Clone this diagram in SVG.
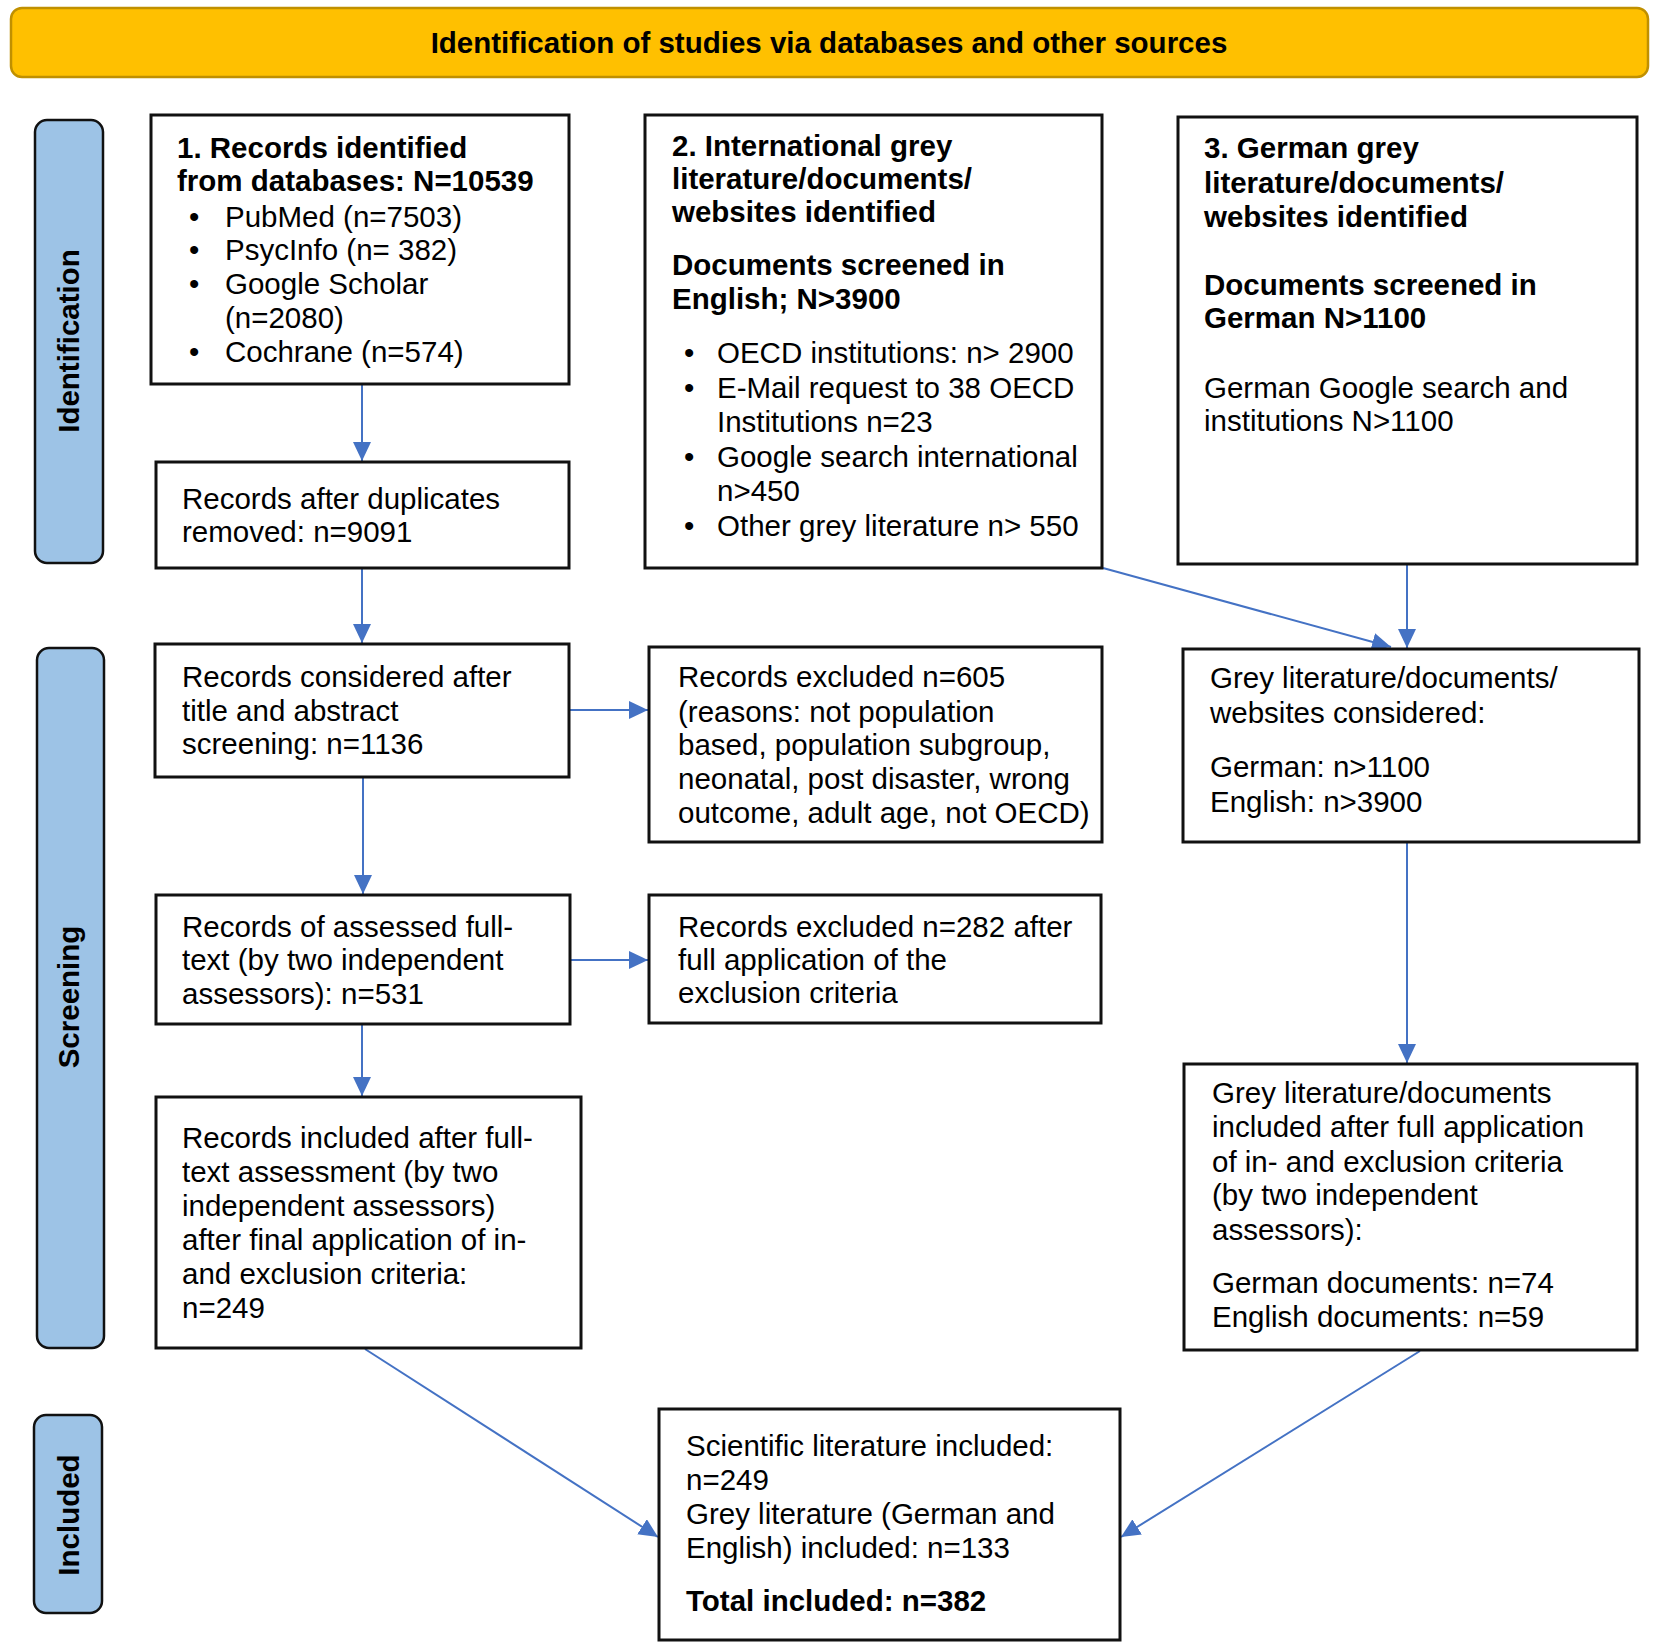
<svg xmlns="http://www.w3.org/2000/svg" width="1659" height="1647" viewBox="0 0 1659 1647">
<style>
text{font-family:"Liberation Sans",Arial,sans-serif;font-size:29.5px;fill:#000}
.b{font-weight:bold}
.box{fill:#fff;stroke:#111;stroke-width:3}
.lab{fill:#9DC3E6;stroke:#111;stroke-width:2.5}
.lt{font-weight:bold;font-size:29.5px}
.c{fill:none;stroke:#4472C4;stroke-width:2}
</style>
<defs>
<marker id="ah" markerUnits="userSpaceOnUse" markerWidth="20" markerHeight="18" refX="19" refY="9" orient="auto" viewBox="0 0 20 18">
<path d="M0,0 L19,9 L0,18 z" fill="#4472C4"/>
</marker>
</defs>
<rect width="1659" height="1647" fill="#fff"/>

<g id="header">
<rect x="11" y="8" width="1637" height="69" rx="11" fill="#FFC000" stroke="#C09000" stroke-width="2.5"/>
<text class="b" x="829" y="53" text-anchor="middle">Identification of studies via databases and other sources</text>
</g>

<g id="label-identification">
<rect class="lab" x="35" y="120" width="68" height="443" rx="12"/>
<text class="lt" transform="translate(79,341) rotate(-90)" text-anchor="middle">Identification</text>
</g>
<g id="label-screening">
<rect class="lab" x="37" y="648" width="67" height="700" rx="12"/>
<text class="lt" transform="translate(79,997) rotate(-90)" text-anchor="middle">Screening</text>
</g>
<g id="label-included">
<rect class="lab" x="34" y="1415" width="68" height="198" rx="12"/>
<text class="lt" transform="translate(79,1515) rotate(-90)" text-anchor="middle">Included</text>
</g>

<g id="connectors">
<line class="c" x1="362" y1="384" x2="362" y2="461" marker-end="url(#ah)"/>
<line class="c" x1="362" y1="569" x2="362" y2="643" marker-end="url(#ah)"/>
<line class="c" x1="570" y1="710" x2="648" y2="710" marker-end="url(#ah)"/>
<line class="c" x1="363" y1="778" x2="363" y2="894" marker-end="url(#ah)"/>
<line class="c" x1="571" y1="960" x2="648" y2="960" marker-end="url(#ah)"/>
<line class="c" x1="362" y1="1025" x2="362" y2="1096" marker-end="url(#ah)"/>
<line class="c" x1="1407" y1="565" x2="1407" y2="648" marker-end="url(#ah)"/>
<line class="c" x1="1103" y1="568" x2="1391" y2="647" marker-end="url(#ah)"/>
<line class="c" x1="1407" y1="843" x2="1407" y2="1063" marker-end="url(#ah)"/>
<line class="c" x1="365" y1="1349" x2="658" y2="1537" marker-end="url(#ah)"/>
<line class="c" x1="1420" y1="1351" x2="1121" y2="1537" marker-end="url(#ah)"/>
</g>

<g id="box-databases">
<rect class="box" x="151" y="115" width="418" height="269"/>
<text class="b" x="177" y="158">1. Records identified</text>
<text class="b" x="177" y="191">from databases: N=10539</text>
<text x="189" y="227">•</text><text x="225" y="227">PubMed (n=7503)</text>
<text x="189" y="260">•</text><text x="225" y="260">PsycInfo (n= 382)</text>
<text x="189" y="294">•</text><text x="225" y="294">Google Scholar</text>
<text x="225" y="328">(n=2080)</text>
<text x="189" y="362">•</text><text x="225" y="362">Cochrane (n=574)</text>
</g>

<g id="box-international">
<rect class="box" x="645" y="115" width="457" height="453"/>
<text class="b" x="672" y="156">2. International grey</text>
<text class="b" x="672" y="189">literature/documents/</text>
<text class="b" x="672" y="222">websites identified</text>
<text class="b" x="672" y="275">Documents screened in</text>
<text class="b" x="672" y="309">English; N&gt;3900</text>
<text x="684" y="363">•</text><text x="717" y="363">OECD institutions: n&gt; 2900</text>
<text x="684" y="398">•</text><text x="717" y="398">E-Mail request to 38 OECD</text>
<text x="717" y="432">Institutions n=23</text>
<text x="684" y="467">•</text><text x="717" y="467">Google search international</text>
<text x="717" y="501">n&gt;450</text>
<text x="684" y="536">•</text><text x="717" y="536">Other grey literature n&gt; 550</text>
</g>

<g id="box-german">
<rect class="box" x="1178" y="117" width="459" height="447"/>
<text class="b" x="1204" y="158">3. German grey</text>
<text class="b" x="1204" y="193">literature/documents/</text>
<text class="b" x="1204" y="227">websites identified</text>
<text class="b" x="1204" y="295">Documents screened in</text>
<text class="b" x="1204" y="328">German N&gt;1100</text>
<text x="1204" y="398">German Google search and</text>
<text x="1204" y="431">institutions N&gt;1100</text>
</g>

<g id="box-duplicates">
<rect class="box" x="156" y="462" width="413" height="106"/>
<text x="182" y="509">Records after duplicates</text>
<text x="182" y="542">removed: n=9091</text>
</g>

<g id="box-title-abstract">
<rect class="box" x="155" y="644" width="414" height="133"/>
<text x="182" y="687">Records considered after</text>
<text x="182" y="721">title and abstract</text>
<text x="182" y="754">screening: n=1136</text>
</g>

<g id="box-excluded-605">
<rect class="box" x="649" y="647" width="453" height="195"/>
<text x="678" y="687">Records excluded n=605</text>
<text x="678" y="722">(reasons: not population</text>
<text x="678" y="755">based, population subgroup,</text>
<text x="678" y="789">neonatal, post disaster, wrong</text>
<text x="678" y="823">outcome, adult age, not OECD)</text>
</g>

<g id="box-grey-considered">
<rect class="box" x="1183" y="649" width="456" height="193"/>
<text x="1210" y="688">Grey literature/documents/</text>
<text x="1210" y="723">websites considered:</text>
<text x="1210" y="777">German: n&gt;1100</text>
<text x="1210" y="812">English: n&gt;3900</text>
</g>

<g id="box-fulltext">
<rect class="box" x="156" y="895" width="414" height="129"/>
<text x="182" y="937">Records of assessed full-</text>
<text x="182" y="970">text (by two independent</text>
<text x="182" y="1004">assessors): n=531</text>
</g>

<g id="box-excluded-282">
<rect class="box" x="649" y="895" width="452" height="128"/>
<text x="678" y="937">Records excluded n=282 after</text>
<text x="678" y="970">full application of the</text>
<text x="678" y="1003">exclusion criteria</text>
</g>

<g id="box-records-included">
<rect class="box" x="156" y="1097" width="425" height="251"/>
<text x="182" y="1148">Records included after full-</text>
<text x="182" y="1182">text assessment (by two</text>
<text x="182" y="1216">independent assessors)</text>
<text x="182" y="1250">after final application of in-</text>
<text x="182" y="1284">and exclusion criteria:</text>
<text x="182" y="1318">n=249</text>
</g>

<g id="box-grey-included">
<rect class="box" x="1184" y="1064" width="453" height="286"/>
<text x="1212" y="1103">Grey literature/documents</text>
<text x="1212" y="1137">included after full application</text>
<text x="1212" y="1172">of in- and exclusion criteria</text>
<text x="1212" y="1205">(by two independent</text>
<text x="1212" y="1240">assessors):</text>
<text x="1212" y="1293">German documents: n=74</text>
<text x="1212" y="1327">English documents: n=59</text>
</g>

<g id="box-total">
<rect class="box" x="659" y="1409" width="461" height="231"/>
<text x="686" y="1456">Scientific literature included:</text>
<text x="686" y="1490">n=249</text>
<text x="686" y="1524">Grey literature (German and</text>
<text x="686" y="1558">English) included: n=133</text>
<text class="b" x="686" y="1611">Total included: n=382</text>
</g>
</svg>
